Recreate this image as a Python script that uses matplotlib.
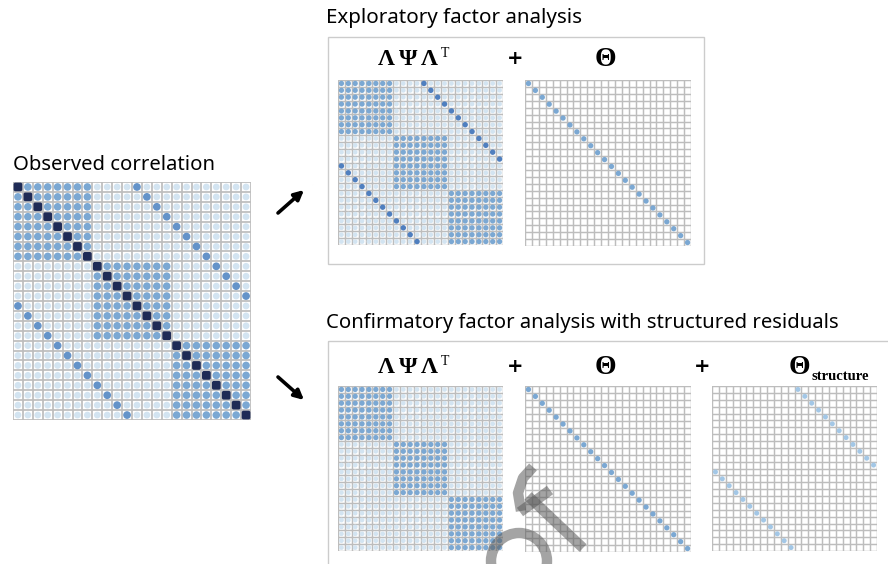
import numpy as np
import matplotlib
matplotlib.use("Agg")
import matplotlib.pyplot as plt
from matplotlib.colors import LinearSegmentedColormap
from matplotlib.patches import Circle, FancyBboxPatch, Rectangle

plt.rcParams['font.family'] = ['Noto Sans', 'DejaVu Sans']

# item / factor structure
n_items = 24
block_sizes = [8, 8, 8]
struct_offset = 12

# observed correlation
obs_within = 0.45
obs_between = 0.1
obs_diag = 1.0
obs_struct = 0.5

# exploratory model: common part absorbs the structured residuals
efa_within = 0.45
efa_between = 0.1
efa_struct = 0.55
theta_diag = 0.45

# confirmatory model
cfa_within = 0.45
cfa_between = 0.1
struct_resid = 0.3

W, H = 888, 564
fig = plt.figure(figsize=(W / 100, H / 100), dpi=100)

shade = LinearSegmentedColormap.from_list(
    "shade",
    [(0.0, "#ffffff"), (0.1, "#d2e3f1"), (0.3, "#a3c7e6"),
     (0.45, "#7ba8d3"), (0.55, "#4f7fbf"), (1.0, "#1f2b56")])


def block_matrix(within, between):
    m = np.full((n_items, n_items), between)
    s = 0
    for b in block_sizes:
        m[s:s + b, s:s + b] = within
        s += b
    return m


def put_struct(m, val):
    for i in range(n_items):
        m[i, (i + struct_offset) % n_items] = val
    return m


observed = put_struct(block_matrix(obs_within, obs_between), obs_struct)
np.fill_diagonal(observed, obs_diag)

efa_common = put_struct(block_matrix(efa_within, efa_between), efa_struct)
theta = np.zeros((n_items, n_items))
np.fill_diagonal(theta, theta_diag)

cfa_common = block_matrix(cfa_within, cfa_between)
theta_structure = put_struct(np.zeros((n_items, n_items)), struct_resid)


def px_axes(x, y, w, h):
    return fig.add_axes([x / W, 1 - (y + h) / H, w / W, h / H])


def draw_matrix(x, y, size, m):
    ax = px_axes(x, y, size, size)
    ax.set_xlim(0, n_items)
    ax.set_ylim(n_items, 0)
    ax.axis("off")
    ax.add_patch(Rectangle((0, 0), n_items, n_items, fc="white", ec="none", zorder=0))
    lw = 1.25 if size > 200 else 1.05
    for k in range(n_items + 1):
        ax.plot([k, k], [0, n_items], color="#bdbdbd", lw=lw, zorder=1, solid_capstyle="projecting")
        ax.plot([0, n_items], [k, k], color="#bdbdbd", lw=lw, zorder=1, solid_capstyle="projecting")
    for r in range(n_items):
        for c in range(n_items):
            v = m[r, c]
            if v <= 0:
                continue
            col = shade(v)
            if v >= 0.99:
                ax.add_patch(FancyBboxPatch((c + 0.06, r + 0.06), 0.88, 0.88,
                                            boxstyle="round,pad=0,rounding_size=0.18",
                                            fc=col, ec="none", zorder=2))
            else:
                rad = 0.33 + 0.12 * v
                ax.add_patch(Circle((c + 0.5, r + 0.5), rad, fc=col, ec="none", zorder=2))
    return ax


draw_matrix(13, 182, 238, observed)
draw_matrix(338, 80, 165, efa_common)
draw_matrix(525, 80, 166, theta)
draw_matrix(338, 386, 165, cfa_common)
draw_matrix(525, 386, 166, theta)
draw_matrix(712, 386, 165, theta_structure)

# overlay for text, frames and arrows, in pixel coordinates
ov = fig.add_axes([0, 0, 1, 1])
ov.set_xlim(0, W)
ov.set_ylim(H, 0)
ov.axis("off")
ov.patch.set_alpha(0)

ov.text(13, 165, "Observed correlation", fontsize=14.6, va="center", ha="left")
ov.text(326, 18, "Exploratory factor analysis", fontsize=14.8, va="center", ha="left")
ov.text(326, 323, "Confirmatory factor analysis with structured residuals",
        fontsize=14.6, va="center", ha="left")

ov.add_patch(Rectangle((327.5, 36.5), 376, 227, fill=False, ec="#cccccc", lw=1.0))
ov.add_patch(Rectangle((327.5, 340.5), 600, 300, fill=False, ec="#cccccc", lw=1.0))

serif = dict(family="Liberation Serif", fontweight="bold", va="center_baseline")


def common_label(cy):
    for cx, ch in [(386.5, "Λ"), (408, "Ψ"), (429.5, "Λ")]:
        ov.text(cx, cy, ch, fontsize=17, ha="center", **serif)
    ov.text(441, cy - 5, "T", fontsize=10, ha="left", va="center_baseline",
            family="Liberation Serif")


def theta_label(cx, cy):
    ov.text(cx, cy, "Θ", fontsize=20, ha="center", **serif)


def plus(cx, cy):
    ov.text(cx, cy, "+", fontsize=14, ha="center", va="center_baseline",
            family="DejaVu Sans", fontweight="bold")


common_label(57)
plus(515, 56)
theta_label(605, 57)

common_label(365)
plus(515, 364)
theta_label(605, 365)
plus(702, 364)
theta_label(799, 365)
ov.text(811, 377, "structure", fontsize=10.5, ha="left", va="center",
        family="Liberation Serif", fontweight="bold")

arrow = dict(arrowstyle="-|>", lw=2.6, color="black", mutation_scale=14,
             shrinkA=0, shrinkB=0)
ov.annotate("", xy=(304, 190), xytext=(278, 213), arrowprops=arrow)
ov.annotate("", xy=(304, 400), xytext=(278, 377), arrowprops=arrow)

# grey mark over the lower panel
mark = dict(color="#5a5a5a", alpha=0.55, lw=7.5, solid_capstyle="butt", zorder=10)
ov.add_patch(Circle((519, 561), 28, fill=False, ec="#5a5a5a", alpha=0.55, lw=7.5, zorder=10))
ov.plot([533, 523, 518, 521], [467, 478, 493, 511], **mark)
ov.plot([520, 550], [512, 490], **mark)
ov.plot([528, 583], [496, 548], **mark)

fig.savefig("out.png", dpi=100)
